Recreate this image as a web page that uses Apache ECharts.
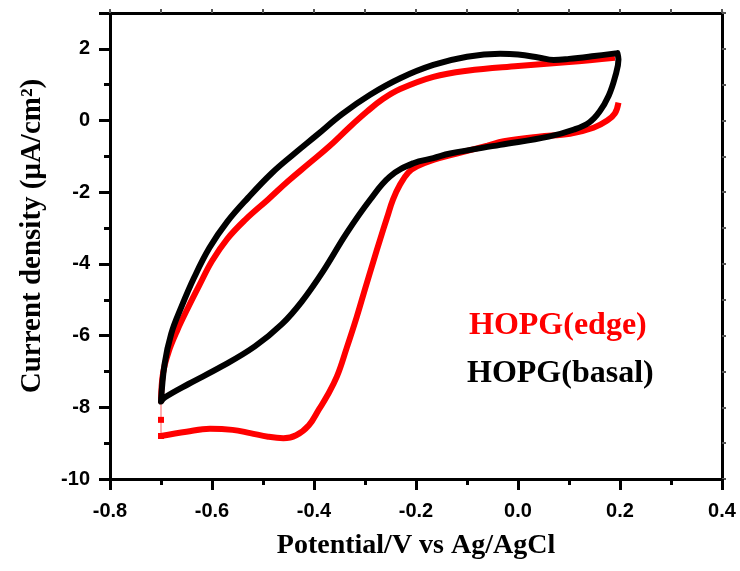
<!DOCTYPE html>
<html>
<head>
<meta charset="utf-8">
<script src="https://cdn.jsdelivr.net/npm/echarts@6/dist/echarts.min.js"></script>
<style>html,body{margin:0;padding:0;background:#fff;}#c{width:740px;height:571px;}</style>
</head>
<body>
<div id="c"></div>
<script>
// axis ticks
var xTicks = [-0.8, -0.6, -0.4, -0.2, 0.0, 0.2, 0.4];
var yTicks = [-10, -8, -6, -4, -2, 0, 2];

// HOPG(edge) - red
var edgeUpper = [[0.19,1.75],[0.1,1.63],[0.0,1.52],[-0.1,1.39],[-0.166,1.22],[-0.231,0.88],[-0.265,0.6],[-0.296,0.25],[-0.33,-0.18],[-0.37,-0.72],[-0.41,-1.2],[-0.45,-1.68],[-0.49,-2.2],[-0.535,-2.77],[-0.57,-3.3],[-0.6,-3.92],[-0.625,-4.6],[-0.648,-5.25],[-0.668,-5.85],[-0.685,-6.45],[-0.696,-7.05],[-0.7,-7.8]];
var edgeSwitch = [[-0.7,-7.8],[-0.7,-8.35],[-0.7,-8.8]];
var edgeLower = [[-0.7,-8.8],[-0.65,-8.68],[-0.604,-8.6],[-0.56,-8.63],[-0.525,-8.72],[-0.49,-8.82],[-0.46,-8.86],[-0.435,-8.78],[-0.41,-8.5],[-0.39,-8.05],[-0.375,-7.7],[-0.355,-7.14],[-0.336,-6.35],[-0.316,-5.47],[-0.3,-4.7],[-0.284,-3.95],[-0.27,-3.3],[-0.257,-2.72],[-0.245,-2.2],[-0.231,-1.78],[-0.215,-1.45],[-0.198,-1.28],[-0.166,-1.1],[-0.12,-0.92],[-0.06,-0.7],[-0.028,-0.58],[0.04,-0.45],[0.102,-0.37],[0.148,-0.2],[0.175,0.0],[0.19,0.2],[0.197,0.5]];

// HOPG(basal) - black
var basalLoop = [[0.195,1.88],[0.15,1.80],[0.10,1.72],[0.07,1.69],[0.04,1.76],[0.0,1.84],[-0.035,1.86],[-0.1,1.78],[-0.166,1.55],[-0.231,1.18],[-0.29,0.72],[-0.345,0.18],[-0.394,-0.4],[-0.44,-0.94],[-0.483,-1.47],[-0.529,-2.15],[-0.57,-2.82],[-0.605,-3.55],[-0.635,-4.38],[-0.66,-5.2],[-0.68,-5.95],[-0.693,-6.8],[-0.7,-7.84],
  [-0.692,-7.72],[-0.646,-7.35],[-0.581,-6.86],[-0.516,-6.3],[-0.463,-5.68],[-0.424,-5.05],[-0.382,-4.2],[-0.336,-3.14],[-0.29,-2.21],[-0.251,-1.56],[-0.205,-1.19],[-0.166,-1.05],[-0.133,-0.92],[-0.035,-0.68],[0.06,-0.45],[0.11,-0.25],[0.14,-0.05],[0.16,0.25],[0.178,0.7],[0.19,1.2],[0.197,1.7],[0.195,1.88]];

var labels = ['HOPG(edge)', 'HOPG(basal)'];
var xTitle = 'Potential/V vs Ag/AgCl';
var yTitle = 'Current density (\u03bcA/cm\u00b2)';

var chart = echarts.init(document.getElementById('c'), null, {renderer: 'canvas'});
var tickFont = {fontFamily: 'Liberation Sans', fontWeight: 'bold', fontSize: 20, color: '#000'};
var option = {
  backgroundColor: '#fff',
  animation: false,
  grid: {left: 110, right: 18, top: 13, bottom: 92},
  xAxis: [{
    type: 'value', min: xTicks[0], max: xTicks[xTicks.length-1], interval: 0.2, position: 'bottom',
    axisLine: {onZero: false, lineStyle: {color: '#000', width: 3}}, splitLine: {show: false},
    axisTick: {show: true, inside: false, length: 11, lineStyle: {width: 3, color: '#000'}},
    minorTick: {show: true, splitNumber: 2, length: 6, lineStyle: {width: 3, color: '#000'}},
    axisLabel: Object.assign({margin: 22, formatter: function(v){return v.toFixed(1);}}, tickFont)
  }, {
    type: 'value', min: xTicks[0], max: xTicks[xTicks.length-1], interval: 0.1, position: 'top',
    axisLine: {onZero: false, lineStyle: {color: '#000', width: 3}}, splitLine: {show: false},
    axisTick: {show: true, inside: false, length: 4, lineStyle: {width: 2, color: '#555'}},
    axisLabel: {show: false}
  }],
  yAxis: [{
    type: 'value', min: yTicks[0], max: 3, interval: 2, position: 'left',
    axisLine: {onZero: false, lineStyle: {color: '#000', width: 3}}, splitLine: {show: false},
    axisTick: {show: true, inside: false, length: 11, lineStyle: {width: 3, color: '#000'}},
    minorTick: {show: true, splitNumber: 2, length: 6, lineStyle: {width: 3, color: '#000'}},
    axisLabel: Object.assign({margin: 20, showMaxLabel: false}, tickFont)
  }, {
    type: 'value', min: yTicks[0], max: 3, interval: 1, position: 'right',
    axisLine: {onZero: false, lineStyle: {color: '#000', width: 3}}, splitLine: {show: false},
    axisTick: {show: true, inside: false, length: 4, lineStyle: {width: 2, color: '#555'}},
    axisLabel: {show: false}
  }],
  series: [
    {type: 'line', data: edgeUpper, showSymbol: false, smooth: 0.4, lineStyle: {color: '#ff0000', width: 6, cap: 'butt'}, z: 2},
    {type: 'line', data: edgeSwitch, symbol: 'rect', symbolSize: 6, showSymbol: true,
      itemStyle: {color: '#ff0000'}, lineStyle: {color: '#ff6060', width: 1}, z: 2},
    {type: 'line', data: edgeLower, showSymbol: false, smooth: 0.4, lineStyle: {color: '#ff0000', width: 6, cap: 'butt'}, z: 2},
    {type: 'line', data: basalLoop, showSymbol: false, smooth: 0.4, lineStyle: {color: '#000', width: 6, cap: 'round', join: 'round'}, z: 3}
  ],
  graphic: [
    {type: 'text', x: 469, y: 326, style: {text: labels[0], fill: '#ff0000', font: 'bold 32px "Liberation Serif"', textVerticalAlign: 'middle'}},
    {type: 'text', x: 467, y: 374, style: {text: labels[1], fill: '#000', font: 'bold 32px "Liberation Serif"', textVerticalAlign: 'middle'}},
    {type: 'text', x: 416, y: 546, style: {text: xTitle, fill: '#000', font: 'bold 28px "Liberation Serif"', textAlign: 'center', textVerticalAlign: 'middle'}},
    {type: 'text', x: 33, y: 236, rotation: Math.PI/2, style: {text: yTitle, fill: '#000', font: 'bold 29px "Liberation Serif"', textAlign: 'center', textVerticalAlign: 'middle'}}
  ]
};
chart.setOption(option);
</script>
</body>
</html>
